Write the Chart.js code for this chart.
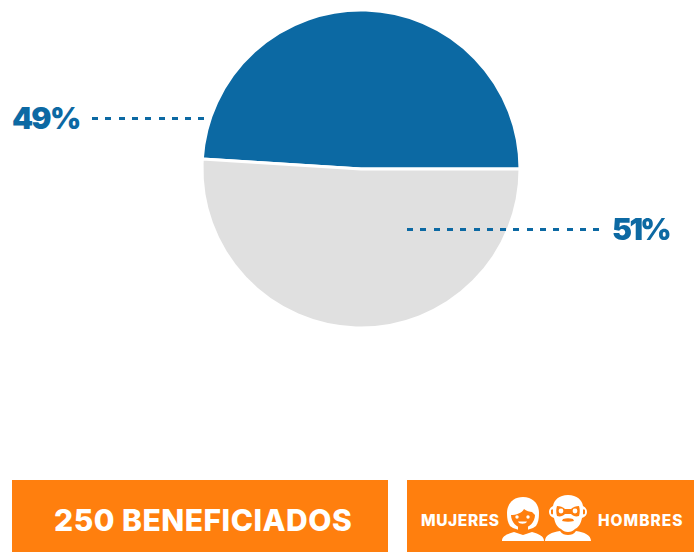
<!DOCTYPE html>
<html>
<head>
<meta charset="utf-8">
<script src="https://cdn.jsdelivr.net/npm/chart.js@4"></script>
<style>
  html, body { margin: 0; padding: 0; background: #fff; }
  body { width: 694px; height: 552px; position: relative; overflow: hidden; font-family: Inter, "Open Sans", sans-serif; }
  #pieWrap { position: absolute; left: 191px; top: -1.5px; width: 340px; height: 340px; }
  .pct { position: absolute; color: #0c69a3; font-size: 30px; font-weight: 900; line-height: 36px; letter-spacing: -1.7px; }
  .leader { position: absolute; height: 3px; background: repeating-linear-gradient(90deg, #0c69a3 0 6px, transparent 6px 13.3px); }
  .box { position: absolute; top: 480px; height: 72px; background: #ff7f0e; color: #fff; font-weight: 800; white-space: nowrap; }
  .box span { position: absolute; }
  #total { left: 12px; width: 376px; }
  #total span { left: 42px; top: 22px; font-size: 30px; line-height: 36px; letter-spacing: 0.5px; }
  #gender { left: 407px; width: 287px; }
  #gender span { top: 31px; font-size: 15.5px; line-height: 19px; }
  #gender svg { position: absolute; left: 93px; top: 13px; }
</style>
</head>
<body>
<div id="pieWrap"><canvas id="pie" width="340" height="340"></canvas></div>

<div class="pct" style="left:12px;top:100px" id="pctA"></div>
<div class="leader" style="left:92px;top:117px;width:114px"></div>
<div class="leader" style="left:407px;top:228px;width:194px"></div>
<div class="pct" style="left:612px;top:211px;letter-spacing:-2.6px" id="pctB"></div>

<div class="box" id="total"><span id="totalText"></span></div>
<div class="box" id="gender">
  <span id="labelA" style="left:14px;letter-spacing:0.6px"></span>
  <svg width="96" height="50" viewBox="0 0 96 50" fill="#fff">
    <!-- mujer -->
    <path d="M23 4C13 4 7 11 7 20c0 6 1 10 3 13l3 2 6 2h8l6-2 3-2c2-3 3-7 3-13C39 11 33 4 23 4z"/>
    <path fill="#ff7f0e" d="M11 22c5 0 11-2 13-6 2 2 6 3 8 3l3 3c0 7-6 13-12 13S11 29 11 22z"/>
    <circle cx="17" cy="24" r="1.7"/><circle cx="28" cy="24" r="1.7"/>
    <path d="M18 28.5h9c-1 3-8 3-9 0z"/>
    <path fill="#ff7f0e" d="M18 33h10v4l5 2-10 3-10-3 5-2z"/>
    <path d="M2 48c0-5 5-7 12-9l9 3 9-3c7 2 12 4 12 9z"/>
    <!-- hombre -->
    <path d="M68 2c-9 0-14 5-15 11-2 1-4 3-4 6s2 5 5 6c1 5 3 9 7 11 2 2 4 3 7 3s5-1 7-3c4-2 6-6 7-11 3-1 5-3 5-6s-2-5-4-6C82 7 77 2 68 2z"/>
    <path fill="#ff7f0e" d="M57 13c3 0 6 1 8 3h6c2-2 5-3 8-3 1 3 1 7 0 10-3 1-6 0-8-2h-6c-2 2-5 3-8 2-1-3-1-7 0-10z"/>
    <circle cx="61" cy="18" r="2.4"/><circle cx="75" cy="18" r="2.4"/>
    <path fill="#ff7f0e" d="M63 26c3-1 7-1 10 0l1 2c-4 1-8 1-12 0z"/>
    <path fill="#ff7f0e" d="M51 17c1-1 2-1 2 0v4c-1 1-2 0-2-1zM85 17c-1-1-2-1-2 0v4c1 1 2 0 2-1z"/>
    <path d="M45 48c0-6 7-9 15-10 2 3 5 4 8 4s6-1 8-4c8 1 15 4 15 10z"/>
  </svg>
  <span id="labelB" style="left:191px;letter-spacing:1px"></span>
</div>

<script>
const categories = ['Grupo A', 'Grupo B'];
const seriesValues = [49, 51];
const percentLabels = ['49%', '51%'];
const sliceColors = ['#0c69a3', '#e0e0e0'];
const totalLabel = '250 BENEFICIADOS';
const genderLabels = ['MUJERES', 'HOMBRES'];

document.getElementById('pctA').textContent = percentLabels[0];
document.getElementById('pctB').textContent = percentLabels[1];
document.getElementById('totalText').textContent = totalLabel;
document.getElementById('labelA').textContent = genderLabels[0];
document.getElementById('labelB').textContent = genderLabels[1];

new Chart(document.getElementById('pie'), {
    type: 'pie',
    data: {
        labels: categories,
        datasets: [{
            data: seriesValues,
            backgroundColor: sliceColors,
            borderColor: '#fff',
            borderWidth: 3
        }]
    },
    options: {
        responsive: false,
        animation: false,
        rotation: -86.4,
        radius: 159,
        plugins: { legend: { display: false }, tooltip: { enabled: false } }
    }
});
</script>
</body>
</html>
